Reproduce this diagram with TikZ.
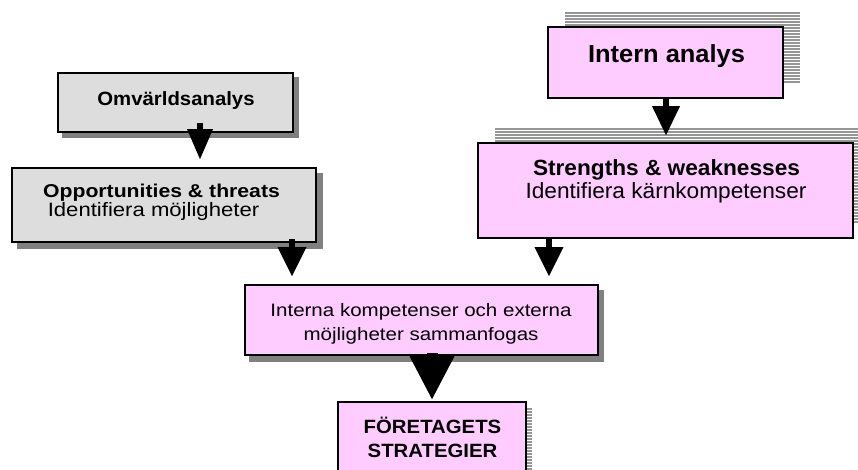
\documentclass[tikz,border=0pt]{standalone}
\usepackage{fontspec}
\setmainfont{Liberation Sans}
\newfontfamily\fa[FakeStretch=1.06]{Liberation Sans}
\newfontfamily\fb[FakeStretch=1.14]{Liberation Sans}
\newfontfamily\fc[FakeStretch=1.03]{Liberation Sans}
\usetikzlibrary{arrows.meta,backgrounds}
\definecolor{pinkfill}{HTML}{FFCCFF}
\definecolor{grayfill}{HTML}{DDDDDD}
\definecolor{shade}{HTML}{808080}
\definecolor{stripe}{HTML}{959595}
\newcommand\mystripes[4]{%
  \begin{scope}
    \clip (#1,#2) rectangle (#3,#4);
    \fill[white] (#1,#2) rectangle (#3,#4);
    \foreach \yy in {0,3,...,120}
      \draw[stripe, line width=1.7pt] (#1,#2+\yy+1) -- (#3,#2+\yy+1);
  \end{scope}}
\begin{document}
\begin{tikzpicture}[x=1pt,y=-1pt,
  box/.style={draw=black, line width=1.6pt, rectangle, inner sep=0pt},
  graybox/.style={box, fill=grayfill},
  pinkbox/.style={box, fill=pinkfill},
  solidshadow/.style={fill=shade},
  lbl/.style={anchor=base, inner sep=0pt},
  arr/.style n args={3}{line width=#1, -{Triangle[width=#2,length=#3,line width=0pt]}},
]
\useasboundingbox (0,0) rectangle (858,470);

% boxes
\node[graybox, minimum width=235pt, minimum height=59pt] (omv) at (175.5,102.5) {};
\node[graybox, minimum width=304pt, minimum height=74pt] (opp) at (164,205) {};
\node[pinkbox, minimum width=235pt, minimum height=71pt] (intern) at (665.5,62.5) {};
\node[pinkbox, minimum width=375pt, minimum height=95pt] (str) at (665.5,190.5) {};
\node[pinkbox, minimum width=353pt, minimum height=70pt] (merge) at (421.5,320) {};
\node[pinkbox, minimum width=188pt, minimum height=80pt] (strat) at (432,442) {};

% shadows
\begin{scope}[on background layer]
\fill[solidshadow] ([shift={(5pt,-5pt)}]omv.south west) rectangle ([shift={(5pt,-5pt)}]omv.north east);
\fill[solidshadow] ([shift={(6pt,-6pt)}]opp.south west) rectangle ([shift={(6pt,-6pt)}]opp.north east);
\fill[solidshadow] ([shift={(5pt,-6pt)}]merge.south west) rectangle ([shift={(5pt,-6pt)}]merge.north east);
\mystripes{565}{12}{800}{83}
\mystripes{495}{128}{870}{223}
\mystripes{344}{408}{532}{480}
\end{scope}

% texts
\node[lbl, font=\fa\bfseries\fontsize{19.2}{22}\selectfont] (tomv) at (176,106) {Omvärldsanalys};
\node[lbl, font=\fb\bfseries\fontsize{18.6}{20}\selectfont] (topp1) at (161.5,197.5) {Opportunities \& threats};
\node[lbl, font=\fb\fontsize{19.4}{20}\selectfont] (topp2) at (153.5,217) {Identifiera möjligheter};
\node[lbl, font=\fc\bfseries\fontsize{24.7}{28}\selectfont] (tint) at (666.5,62.7) {Intern analys};
\node[lbl, font=\fc\bfseries\fontsize{22}{26}\selectfont] (tstr1) at (666.5,176) {Strengths \& weaknesses};
\node[lbl, font=\fc\fontsize{22}{26}\selectfont] (tstr2) at (666,199) {Identifiera kärnkompetenser};
\node[lbl, font=\fb\fontsize{18}{20}\selectfont] (tm1) at (421,316) {Interna kompetenser och externa};
\node[lbl, font=\fb\fontsize{18}{20}\selectfont] (tm2) at (421,340) {möjligheter sammanfogas};
\node[lbl, font=\fa\bfseries\fontsize{19.2}{22}\selectfont] (ts1) at (432.5,433) {FÖRETAGETS};
\node[lbl, font=\fa\bfseries\fontsize{19.2}{22}\selectfont] (ts2) at (432.5,457) {STRATEGIER};

% arrows
\draw[arr={5.5pt}{26pt}{30pt}] ([shift={(24.5pt,10pt)}]omv.south) -- ([shift={(36pt,8pt)}]opp.north);
\draw[arr={5.5pt}{29pt}{29pt}] ([shift={(128pt,4pt)}]opp.south) -- ([shift={(-129.5pt,8pt)}]merge.north);
\draw[arr={5.5pt}{28pt}{29pt}] ([shift={(0.5pt,2pt)}]intern.south) -- ([shift={(0.5pt,7pt)}]str.north);
\draw[arr={5.5pt}{29pt}{29pt}] ([shift={(-116.5pt,1pt)}]str.south) -- ([shift={(127.5pt,8pt)}]merge.north);
\draw[arr={11pt}{45pt}{43pt}] ([shift={(10.5pt,3pt)}]merge.south) -- ([shift={(0pt,2pt)}]strat.north);
\end{tikzpicture}
\end{document}
